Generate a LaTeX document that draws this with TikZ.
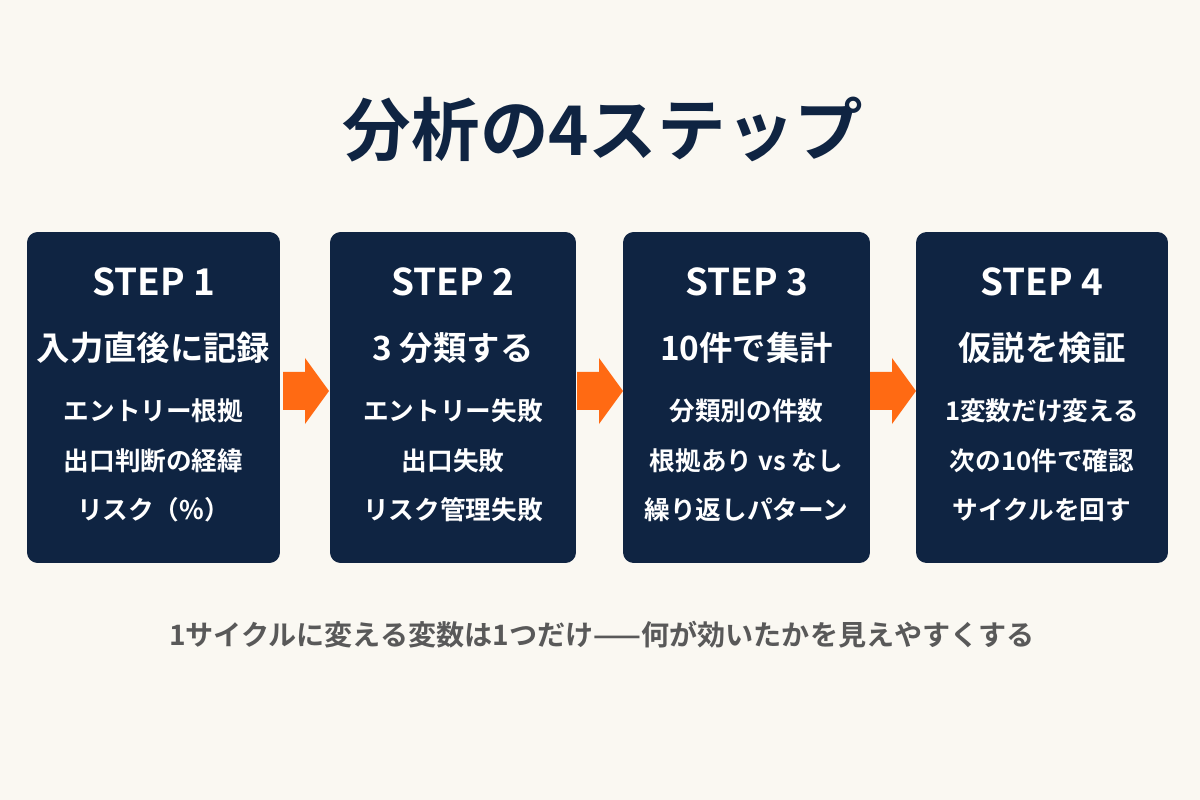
\documentclass[tikz,border=0pt]{standalone}
\usepackage{fontspec}
\setmainfont{Noto Sans CJK JP}[BoldFont={* Bold}]
\usepackage{xcolor}
\usetikzlibrary{positioning}

\definecolor{bgcream}{HTML}{FAF8F2}
\definecolor{navy}{HTML}{0F2442}
\definecolor{flow}{HTML}{FF6A13}
\definecolor{notegray}{HTML}{595959}

\begin{document}
\begin{tikzpicture}[x=0.02cm,y=-0.02cm,
  stepbox/.style={fill=navy,rounded corners=6pt,inner sep=0pt,minimum height=6.62cm},
  steptag/.style={white,font=\bfseries\fontsize{21}{24}\selectfont},
  stephead/.style={white,font=\bfseries\fontsize{19}{22}\selectfont},
  stepitem/.style={white,font=\bfseries\fontsize{14.6}{17}\selectfont}]
  \fill[bgcream] (0,0) rectangle (1200,800);
  \useasboundingbox (0,0) rectangle (1200,800);

  % title
  \node[navy,font=\bfseries\fontsize{39}{44}\selectfont] (title) at (603,130) {分析の4ステップ};

  % the four boxes
  \node[stepbox,minimum width=5.06cm] (s1) at (153.5,397.5) {};
  \node[stepbox,minimum width=4.92cm] (s2) at (453,397.5) {};
  \node[stepbox,minimum width=4.94cm] (s3) at (746.5,397.5) {};
  \node[stepbox,minimum width=5.04cm] (s4) at (1042,397.5) {};

  % box texts
  \node[steptag]  (t1) at (153.5,282) {STEP 1};
  \node[stephead] (h1) at (153.5,348) {入力直後に記録};
  \node[stepitem] (a1) at (153.5,411) {エントリー根拠};
  \node[stepitem] (b1) at (153.5,461) {出口判断の経緯};
  \node[stepitem] (c1) at (153.5,510) {リスク（\%）};

  \node[steptag]  (t2) at (453,282) {STEP 2};
  \node[stephead] (h2) at (453,348) {3 分類する};
  \node[stepitem] (a2) at (453,411) {エントリー失敗};
  \node[stepitem] (b2) at (453,461) {出口失敗};
  \node[stepitem] (c2) at (453,510) {リスク管理失敗};

  \node[steptag]  (t3) at (746.5,282) {STEP 3};
  \node[stephead] (h3) at (746.5,348) {10件で集計};
  \node[stepitem] (a3) at (746.5,411) {分類別の件数};
  \node[stepitem] (b3) at (746.5,461) {根拠あり vs なし};
  \node[stepitem] (c3) at (746.5,510) {繰り返しパターン};

  \node[steptag]  (t4) at (1042,282) {STEP 4};
  \node[stephead] (h4) at (1042,348) {仮説を検証};
  \node[stepitem] (a4) at (1042,411) {1変数だけ変える};
  \node[stepitem] (b4) at (1042,461) {次の10件で確認};
  \node[stepitem] (c4) at (1042,510) {サイクルを回す};

  % arrows between boxes
  \foreach \ax in {283,577,870}
    \fill[flow,shift={(\ax,0)}] (0,372) -- (22,372) -- (22,358) -- (46,391)
      -- (22,424) -- (22,410) -- (0,410) -- cycle;

  % note
  \node[notegray,font=\bfseries\fontsize{16}{18}\selectfont] (note) at (602,635)
    {1サイクルに変える変数は1つだけ——何が効いたかを見えやすくする};
\end{tikzpicture}
\end{document}
